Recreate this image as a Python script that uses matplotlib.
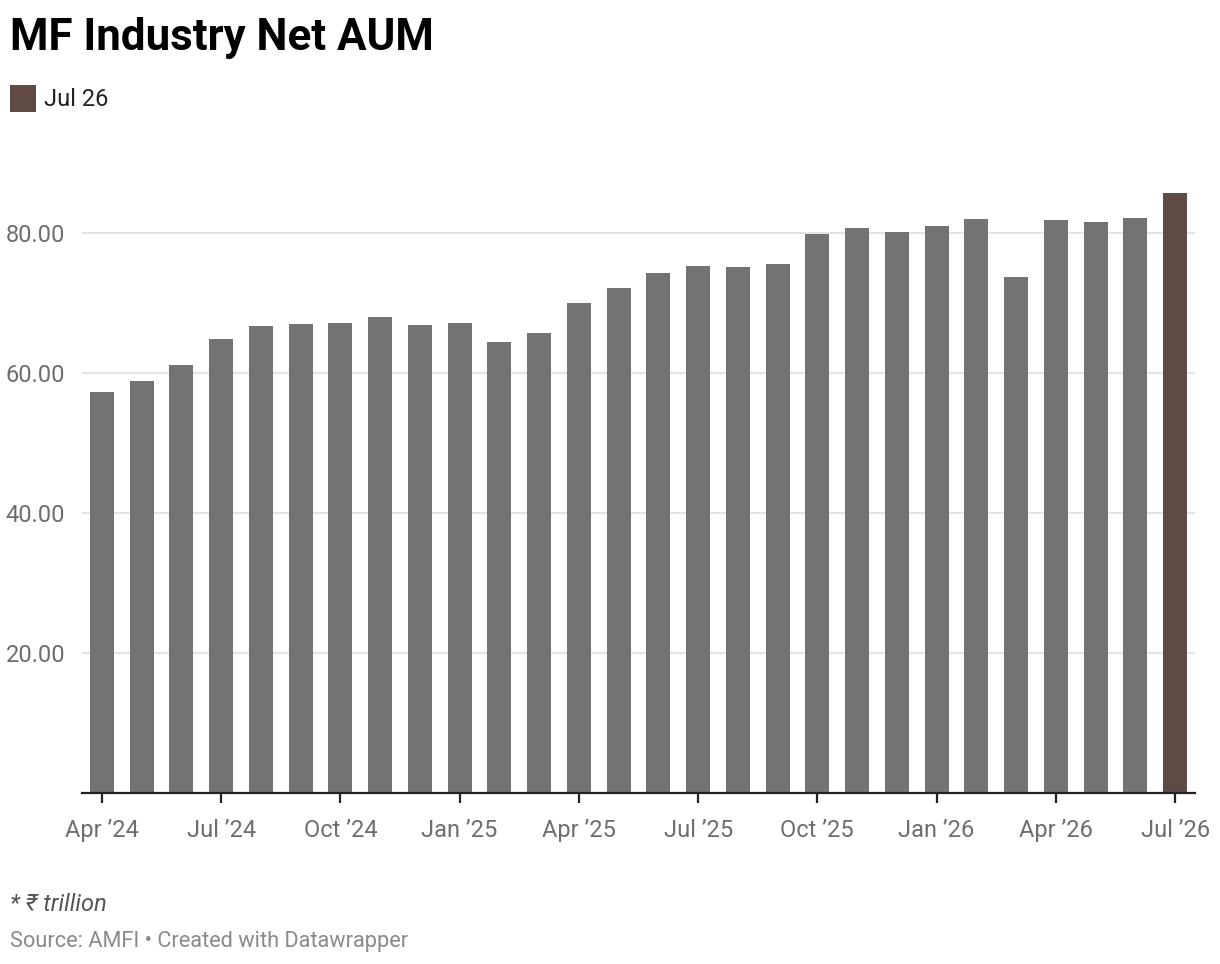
import numpy as np
import matplotlib.pyplot as plt
from matplotlib.patches import Rectangle

plt.rcParams['font.family'] = ['Roboto', 'DejaVu Sans']

months = ['Apr 24', 'May 24', 'Jun 24', 'Jul 24', 'Aug 24', 'Sep 24', 'Oct 24',
          'Nov 24', 'Dec 24', 'Jan 25', 'Feb 25', 'Mar 25', 'Apr 25', 'May 25',
          'Jun 25', 'Jul 25', 'Aug 25', 'Sep 25', 'Oct 25', 'Nov 25', 'Dec 25',
          'Jan 26', 'Feb 26', 'Mar 26', 'Apr 26', 'May 26', 'Jun 26', 'Jul 26']
aum = [57.3, 58.9, 61.1, 64.9, 66.7, 67.0, 67.1, 68.0, 66.9, 67.1, 64.4, 65.7,
       70.0, 72.1, 74.3, 75.3, 75.1, 75.6, 79.9, 80.7, 80.1, 81.0, 82.0, 73.7,
       81.9, 81.6, 82.1, 85.7]
tick_labels = ['Apr ’24', 'Jul ’24', 'Oct ’24', 'Jan ’25', 'Apr ’25',
               'Jul ’25', 'Oct ’25', 'Jan ’26', 'Apr ’26', 'Jul ’26']
yticks = [20, 40, 60, 80]

W, H = 1220, 964
fig = plt.figure(figsize=(W / 100, H / 100), dpi=100)

top_val = 86
ax_top = 793 - top_val * 7
ax = fig.add_axes([82 / W, 1 - 793 / H, (1195 - 82) / W, (793 - ax_top) / H])

x = np.arange(len(aum))
colors = ['#737373'] * (len(aum) - 1) + ['#5f4b44']
ax.bar(x, aum, width=0.61, color=colors, zorder=3)

ax.set_xlim(-0.5, len(aum) - 0.5)
ax.set_ylim(0, top_val)
ax.set_yticks(yticks)
ax.set_yticklabels([f'{v:.2f}' for v in yticks])
ax.set_xticks(x[::3])
ax.set_xticklabels(tick_labels)

ax.grid(axis='y', color='#e2e2e2', linewidth=1.3, zorder=0)
for s in ['top', 'right', 'left']:
    ax.spines[s].set_visible(False)
ax.spines['bottom'].set_color('#222222')
ax.spines['bottom'].set_linewidth(1.6)
ax.spines['bottom'].set_zorder(4)

ax.tick_params(axis='y', length=0, pad=12, labelsize=17, labelcolor='#6e6e6e')
ax.tick_params(axis='x', length=7, width=1.6, color='#222222', pad=12,
               labelsize=17, labelcolor='#6e6e6e')

fig.text(10 / W, 1 - 50 / H, 'MF Industry Net AUM', fontsize=31.6,
         fontweight='bold', color='black', va='baseline', ha='left')

fig.patches.append(Rectangle((10 / W, 1 - 112 / H), 26 / W, 27 / H,
                             transform=fig.transFigure, facecolor='#5f4b44',
                             linewidth=0))
fig.text(44 / W, 1 - 106 / H, 'Jul 26', fontsize=17, color='#222222',
         va='baseline', ha='left')

fig.text(10 / W, 1 - 911 / H, '* ₹ trillion', fontsize=17, style='italic',
         color='#555555', va='baseline', ha='left')
fig.text(10 / W, 1 - 947 / H, 'Source: AMFI • Created with Datawrapper',
         fontsize=15.7, color='#8a8a8a', va='baseline', ha='left')

fig.savefig('out.png', dpi=100)
